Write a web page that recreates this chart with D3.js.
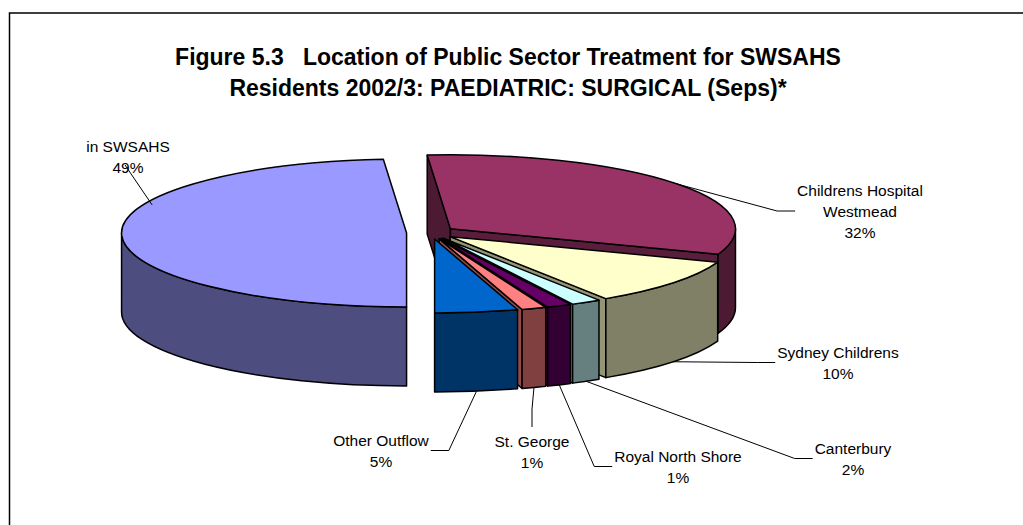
<!DOCTYPE html>
<html><head><meta charset="utf-8">
<script src="https://cdn.jsdelivr.net/npm/d3@7"></script>
<style>html,body{margin:0;padding:0;background:#fff;} svg{display:block;}</style>
</head><body>
<svg id="chart" width="1023" height="525"></svg>
<script>
// ---- data ----
const categories = ["in SWSAHS","Childrens Hospital Westmead","Sydney Childrens","Canterbury","Royal North Shore","St. George","Other Outflow"];
const categoryLines = [["in SWSAHS"],["Childrens Hospital","Westmead"],["Sydney Childrens"],["Canterbury"],["Royal North Shore"],["St. George"],["Other Outflow"]];
const shares = [48.7, 31.9, 10.2, 1.7, 1.4, 1.4, 4.7];
const titleLines = ["Figure 5.3   Location of Public Sector Treatment for SWSAHS","Residents 2002/3: PAEDIATRIC: SURGICAL (Seps)*"];
const topColors = ["#9999FF","#993366","#FFFFCC","#CCFFFF","#660066","#FF8080","#0066CC"];

// ---- layout ----
const W = 1023, H = 525;
const P = {cx:431, cy:232.7, rx:285, ry:74, depth:79, explode:0.0858};
const FONT = "'Liberation Sans', Arial, Helvetica, sans-serif";
const labelFS = 15.5, lineGap = 21;
const labelLayout = [
  {x:128, y:146, leader:"inside", anchorAngle:203, anchorK:0.97},
  {x:860, y:190, leader:"left"},
  {x:838, y:352, leader:"left"},
  {x:853, y:448, leader:"left"},
  {x:678, y:456, leader:"left"},
  {x:532, y:441, leader:"top"},
  {x:381, y:440, leader:"right"}
];

const svg = d3.select("#chart");
svg.append("rect").attr("width",W).attr("height",H).attr("fill","#fff");
// frame (top & left visible)
svg.append("path").attr("d",`M9.5,${H}L9.5,13L${W},13`).attr("fill","none").attr("stroke","#000").attr("stroke-width",1.5);

// title
svg.append("g").selectAll("text").data(titleLines).join("text")
  .attr("x",508).attr("y",(d,i)=>57 + i*31 + 0.36*23)
  .attr("text-anchor","middle").style("white-space","pre")
  .attr("font-family",FONT).attr("font-weight","bold").attr("font-size",23).attr("fill","#000")
  .text(d=>d);

// ---- pie geometry ----
const data = categories.map((c,i)=>({name:c, v:shares[i], i}));
const arcs = d3.pie().sort(null).value(d=>d.v).startAngle(Math.PI).endAngle(3*Math.PI)(data);
arcs.forEach(a=>{
  a.t0 = a.startAngle - Math.PI/2; a.t1 = a.endAngle - Math.PI/2; a.tm = (a.t0+a.t1)/2;
  a.vx = P.cx + P.explode*P.rx*Math.cos(a.tm);
  a.vy = P.cy + P.explode*P.ry*Math.sin(a.tm);
  const c = d3.rgb(topColors[a.data.i]);
  a.top = topColors[a.data.i];
  a.side = d3.rgb(c.r/2, c.g/2, c.b/2).formatHex();
  a.wall = d3.rgb(c.r*0.58, c.g*0.58, c.b*0.58).formatHex();
});
function pt(a,t,z=0,k=1){ return [a.vx + k*P.rx*Math.cos(t), a.vy + k*P.ry*Math.sin(t) + z]; }
function topPath(a){
  const p0=pt(a,a.t0), p1=pt(a,a.t1), large=(a.t1-a.t0)>Math.PI?1:0;
  return `M${a.vx},${a.vy}L${p0}A${P.rx},${P.ry} 0 ${large} 1 ${p1}Z`;
}
function sidePath(a,lo,hi){
  const s0=pt(a,lo), s1=pt(a,hi), b1=pt(a,hi,P.depth), b0=pt(a,lo,P.depth);
  const large=(hi-lo)>Math.PI?1:0;
  return `M${s0}A${P.rx},${P.ry} 0 ${large} 1 ${s1}L${b1}A${P.rx},${P.ry} 0 ${large} 0 ${b0}Z`;
}
function wallPath(a,t){
  const p=pt(a,t), pb=pt(a,t,P.depth);
  return `M${a.vx},${a.vy}L${p}L${pb}L${a.vx},${a.vy+P.depth}Z`;
}
const walls=[], sides=[];
arcs.forEach(a=>{
  if (Math.cos(a.t0) < -1e-6) walls.push({d:wallPath(a,a.t0), fill:a.side, key:a.vy+0.5*P.ry*Math.sin(a.t0)});
  if (Math.cos(a.t1) > 1e-6) walls.push({d:wallPath(a,a.t1), fill:a.wall, key:a.vy+0.5*P.ry*Math.sin(a.t1)});
  for (let k=-1;k<=2;k++){
    const lo=Math.max(a.t0,2*Math.PI*k), hi=Math.min(a.t1,2*Math.PI*k+Math.PI);
    if (hi>lo+1e-6) sides.push({d:sidePath(a,lo,hi), fill:a.side, key:a.vy+P.ry*Math.sin((lo+hi)/2)});
  }
});
walls.sort((p,q)=>p.key-q.key); sides.sort((p,q)=>p.key-q.key);
const gPie = svg.append("g").attr("stroke","#000").attr("stroke-width",1.5).attr("stroke-linejoin","round");
gPie.selectAll("path.wall").data(walls).join("path").attr("class","wall").attr("d",d=>d.d).attr("fill",d=>d.fill);
gPie.selectAll("path.side").data(sides).join("path").attr("class","side").attr("d",d=>d.d).attr("fill",d=>d.fill);
gPie.selectAll("path.top").data(arcs).join("path").attr("class","top").attr("d",topPath).attr("fill",d=>d.top);

// ---- labels ----
const fmt = d3.format(".0%");
const gLab = svg.append("g");
const gLead = svg.append("g").attr("stroke","#000").attr("stroke-width",1).attr("fill","none");
arcs.forEach(a=>{
  const L = labelLayout[a.data.i];
  const lines = categoryLines[a.data.i].concat([fmt(a.data.v/100)]);
  const t = gLab.append("text").attr("font-family",FONT).attr("font-size",labelFS).attr("fill","#000").attr("text-anchor","middle");
  lines.forEach((s,j)=> t.append("tspan").attr("x",L.x).attr("y",L.y + j*lineGap + 0.36*labelFS).text(s));
  let maxW = 0; t.selectAll("tspan").each(function(){ maxW=Math.max(maxW,this.getComputedTextLength()); });
  const midY = L.y + (lines.length-1)*lineGap/2;
  let start;
  if (L.anchorAngle!==undefined) start = pt(a, L.anchorAngle*Math.PI/180, 0, L.anchorK);
  else start = Math.sin(a.tm) < 0 ? pt(a,a.tm) : pt(a,a.tm,P.depth);
  let pts;
  if (L.leader==="left"){ const e=[L.x-maxW/2-2, midY]; pts=[start,[e[0]-18,e[1]],e]; }
  else if (L.leader==="right"){ const e=[L.x+maxW/2+2, midY]; pts=[start,[e[0]+18,e[1]],e]; }
  else if (L.leader==="top"){ const e=[L.x, L.y-14]; pts=[start,[e[0],e[1]-18],e]; }
  else { pts=[start,[L.x-3, L.y+lineGap-2]]; }
  gLead.append("path").attr("d", d3.line()(pts));
});
</script>
</body></html>
